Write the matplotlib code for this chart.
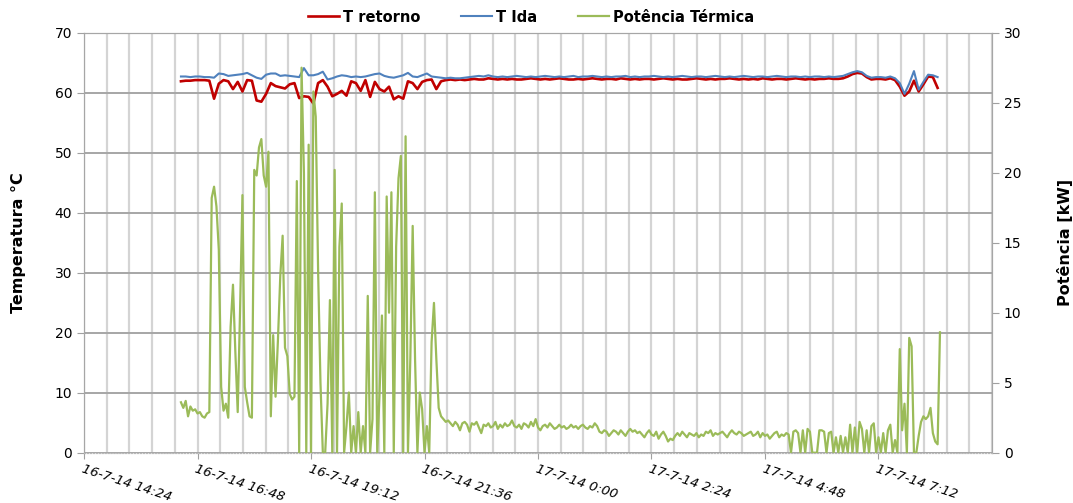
import numpy as np
import matplotlib
matplotlib.use("Agg")
import matplotlib.pyplot as plt
from matplotlib.ticker import MultipleLocator

# x axis: hours since 16-7-14 14:24
tick_hours = [0.0, 2.4, 4.8, 7.2, 9.6, 12.0, 14.4, 16.8]
tick_labels = ['16-7-14 14:24', '16-7-14 16:48', '16-7-14 19:12', '16-7-14 21:36',
               '17-7-14 0:00', '17-7-14 2:24', '17-7-14 4:48', '17-7-14 7:12']

# temperatures sampled every 0.1 h starting 16:27
temp_start, temp_step = 2.05, 0.1
t_retorno = [
    61.9, 62.0, 62.0, 62.1, 62.1, 62.1, 62.0, 59.0, 61.5, 62.1,
    61.9, 60.6, 61.8, 60.2, 62.1, 62.0, 58.7, 58.5, 59.8, 61.6,
    61.1, 60.9, 60.7, 61.4, 61.6, 59.1, 59.4, 59.3, 58.2, 61.6,
    62.1, 61.0, 59.4, 59.8, 60.3, 59.5, 61.9, 61.6, 60.3, 62.1,
    59.3, 61.8, 60.6, 60.2, 61.0, 58.9, 59.4, 59.0, 61.9, 61.6,
    60.6, 61.8, 62.1, 62.2, 60.6, 61.9, 62.1, 62.2, 62.1, 62.2,
    62.1, 62.2, 62.3, 62.2, 62.2, 62.4, 62.3, 62.2, 62.3, 62.2,
    62.3, 62.2, 62.2, 62.3, 62.4, 62.3, 62.2, 62.3, 62.2, 62.3,
    62.4, 62.3, 62.2, 62.2, 62.3, 62.2, 62.3, 62.4, 62.3, 62.2,
    62.3, 62.3, 62.2, 62.4, 62.3, 62.2, 62.3, 62.2, 62.3, 62.3,
    62.2, 62.3, 62.4, 62.3, 62.2, 62.3, 62.2, 62.2, 62.3, 62.4,
    62.3, 62.2, 62.3, 62.2, 62.3, 62.3, 62.4, 62.3, 62.2, 62.3,
    62.2, 62.3, 62.2, 62.4, 62.3, 62.2, 62.3, 62.3, 62.2, 62.3,
    62.4, 62.3, 62.2, 62.3, 62.2, 62.3, 62.3, 62.4, 62.3, 62.3,
    62.4, 62.7, 63.1, 63.3, 63.2, 62.6, 62.2, 62.3, 62.3, 62.2,
    62.4, 62.1, 61.0, 59.5, 60.2, 62.0, 60.2, 61.4, 62.7, 62.6,
    60.8,
]
t_ida = [
    62.7, 62.7, 62.6, 62.7, 62.7, 62.6, 62.6, 62.5, 63.2, 63.1,
    62.8, 62.9, 63.0, 63.1, 63.3, 62.9, 62.5, 62.3, 63.0, 63.2,
    63.2, 62.8, 62.9, 62.8, 62.7, 62.6, 64.1, 62.9, 62.9, 63.1,
    63.5, 62.2, 62.4, 62.7, 62.9, 62.8, 62.6, 62.7, 62.6, 62.7,
    62.9, 63.1, 63.2, 62.8, 62.6, 62.5, 62.7, 62.9, 63.3, 62.7,
    62.6, 62.9, 63.2, 62.7, 62.6, 62.5, 62.4, 62.5, 62.4, 62.4,
    62.5, 62.6, 62.7, 62.8, 62.7, 62.9, 62.7, 62.6, 62.7, 62.6,
    62.7, 62.8, 62.7, 62.6, 62.7, 62.6, 62.7, 62.8, 62.7, 62.6,
    62.7, 62.6, 62.7, 62.8, 62.6, 62.7, 62.7, 62.8, 62.7, 62.6,
    62.7, 62.6, 62.7, 62.7, 62.8, 62.6, 62.7, 62.6, 62.7, 62.7,
    62.8, 62.7, 62.6, 62.7, 62.6, 62.7, 62.8, 62.7, 62.6, 62.7,
    62.7, 62.6, 62.7, 62.8, 62.7, 62.6, 62.7, 62.6, 62.7, 62.8,
    62.7, 62.6, 62.7, 62.7, 62.6, 62.7, 62.8, 62.7, 62.6, 62.7,
    62.7, 62.6, 62.7, 62.6, 62.7, 62.7, 62.6, 62.7, 62.6, 62.7,
    62.8, 63.1, 63.4, 63.6, 63.4, 62.8, 62.5, 62.6, 62.6, 62.5,
    62.7, 62.4, 61.6, 59.8, 61.5, 63.6, 60.5, 61.8, 63.0, 62.9,
    62.6,
]

# thermal power sampled every 0.05 h
pot_start, pot_step = 2.05, 0.05
potencia = [
    3.6, 3.2, 3.7, 2.6, 3.3, 3.0, 3.1, 2.8, 2.9, 2.6,
    2.5, 2.8, 2.9, 18.2, 19.0, 17.6, 14.5, 4.7, 3.0, 3.5,
    2.5, 9.0, 12.0, 7.2, 2.9, 10.2, 18.4, 4.7, 3.6, 2.6,
    2.5, 20.2, 19.8, 21.8, 22.4, 19.8, 19.0, 21.5, 2.6, 8.4,
    4.0, 8.0, 12.6, 15.5, 7.5, 6.9, 4.2, 3.8, 4.0, 19.4,
    0.0, 27.5, 20.0, 0.0, 22.0, 0.0, 25.8, 24.0, 13.0, 5.0,
    0.0, 0.0, 3.5, 10.9, 0.0, 20.2, 0.0, 14.7, 17.8, 0.0,
    1.9, 4.3, 0.0, 1.9, 0.0, 2.9, 0.0, 1.9, 0.0, 11.2,
    0.0, 2.4, 18.6, 0.0, 4.3, 9.8, 0.0, 18.3, 10.0, 18.6,
    0.0, 14.7, 19.6, 21.2, 0.0, 22.6, 0.0, 6.7, 16.2, 6.7,
    0.0, 4.3, 3.1, 0.0, 1.9, 0.0, 7.9, 10.7, 6.7, 3.2,
    2.6, 2.4, 2.2, 2.3, 2.1, 1.9, 2.2, 2.0, 1.6, 2.1,
    2.2, 2.0, 1.5, 2.1, 2.0, 2.2, 1.8, 1.4, 2.0, 1.9,
    2.1, 1.8, 1.9, 2.2, 1.7, 2.0, 1.8, 2.1, 1.9, 2.0,
    2.3, 1.9, 1.8, 2.0, 1.7, 2.1, 2.0, 1.8, 2.2, 1.9,
    2.4, 1.8, 1.6, 1.9, 2.0, 1.8, 2.1, 1.9, 1.7, 1.8,
    2.0, 1.8, 1.9, 1.7, 1.8, 2.0, 1.8, 1.9, 1.7, 1.9,
    2.0, 1.8, 1.7, 1.9, 1.8, 2.1, 1.9, 1.5, 1.4, 1.6,
    1.5, 1.2, 1.4, 1.6, 1.5, 1.3, 1.6, 1.4, 1.2, 1.5,
    1.7, 1.5, 1.6, 1.4, 1.5, 1.3, 1.1, 1.4, 1.6, 1.3,
    1.2, 1.5, 1.0, 1.3, 1.5, 1.2, 0.8, 1.0, 0.9, 1.2,
    1.4, 1.2, 1.5, 1.3, 1.1, 1.4, 1.3, 1.2, 1.4, 1.1,
    1.3, 1.2, 1.5, 1.4, 1.6, 1.2, 1.4, 1.3, 1.4, 1.5,
    1.3, 1.1, 1.4, 1.6, 1.4, 1.3, 1.5, 1.4, 1.2, 1.3,
    1.4, 1.5, 1.2, 1.3, 1.5, 1.1, 1.4, 1.2, 1.3, 1.0,
    1.2, 1.4, 1.5, 1.1, 1.3, 1.2, 1.4, 1.3, 0.0, 1.5,
    1.6, 1.4, 0.0, 1.6, 0.0, 1.7, 1.5, 0.0, 0.0, 0.0,
    1.6, 1.6, 1.5, 0.0, 1.4, 1.5, 0.0, 1.1, 0.0, 1.2,
    0.0, 1.1, 0.0, 2.0, 0.0, 1.8, 0.0, 2.2, 1.7, 0.0,
    1.6, 0.0, 1.9, 2.1, 0.0, 1.1, 0.0, 1.4, 0.0, 1.6,
    2.0, 0.0, 0.9, 0.0, 7.4, 1.6, 3.5, 0.0, 8.2, 7.6,
    0.0, 0.0, 1.2, 2.2, 2.6, 2.4, 2.6, 3.2, 1.4, 0.8,
    0.6, 8.6,
]

t_temp = temp_start + temp_step * np.arange(len(t_retorno))
t_pot = pot_start + pot_step * np.arange(len(potencia))

fig = plt.figure(figsize=(10.73, 5.03), dpi=100)
ax = fig.add_axes([0.0783, 0.1, 0.8462, 0.835])
ax2 = ax.twinx()

l1, = ax.plot(t_temp, t_retorno, color='#C00000', lw=1.9, label='T retorno')
l2, = ax.plot(t_temp, t_ida, color='#4F81BD', lw=1.5, label='T Ida')
l3, = ax2.plot(t_pot, potencia, color='#9BBB59', lw=1.6, label='Potência Térmica')

# x axis
ax.set_xlim(0, 19.2)
ax.set_xticks(tick_hours)
ax.set_xticklabels(tick_labels, rotation=-18, ha='left', va='top',
                   rotation_mode='anchor', fontsize=9.5, style='italic')
ax.xaxis.set_minor_locator(MultipleLocator(0.48))
ax.grid(True, which='both', axis='x', color='#d4d4d4', lw=1.6)
ax.tick_params(axis='x', which='major', length=4, color='#a0a0a0', pad=3)
ax.tick_params(axis='x', which='minor', length=0)

# left axis
ax.set_ylim(0, 70)
ax.set_yticks(range(0, 71, 10))
ax.grid(True, axis='y', color='#a6a6a6', lw=1.4)
ax.tick_params(axis='y', length=5, color='#a0a0a0', labelsize=10)
ax.set_axisbelow(True)
ax.set_ylabel('Temperatura °C', fontsize=11.5, fontweight='bold')
ax.yaxis.set_label_coords(-0.064, 0.5)

# right axis
ax2.set_ylim(0, 30)
ax2.set_yticks(range(0, 31, 5))
ax2.tick_params(axis='y', length=5, color='#a0a0a0', labelsize=10)
ax2.set_ylabel('Potência [kW]', fontsize=11.5, fontweight='bold')
ax2.yaxis.set_label_coords(1.0715, 0.5)

for a in (ax, ax2):
    for side in ('left', 'right', 'top'):
        a.spines[side].set_color('#a6a6a6')
    a.spines['bottom'].set_color('#b8b8b8')
    a.spines['bottom'].set_linestyle(':')

fig.legend(handles=[l1, l2, l3], loc='center', bbox_to_anchor=(0.495, 0.966),
           ncol=3, frameon=False, handlelength=2.1, handletextpad=0.3,
           columnspacing=2.8, prop={'weight': 'bold', 'size': 10.5})

fig.savefig('out.png', dpi=100)
